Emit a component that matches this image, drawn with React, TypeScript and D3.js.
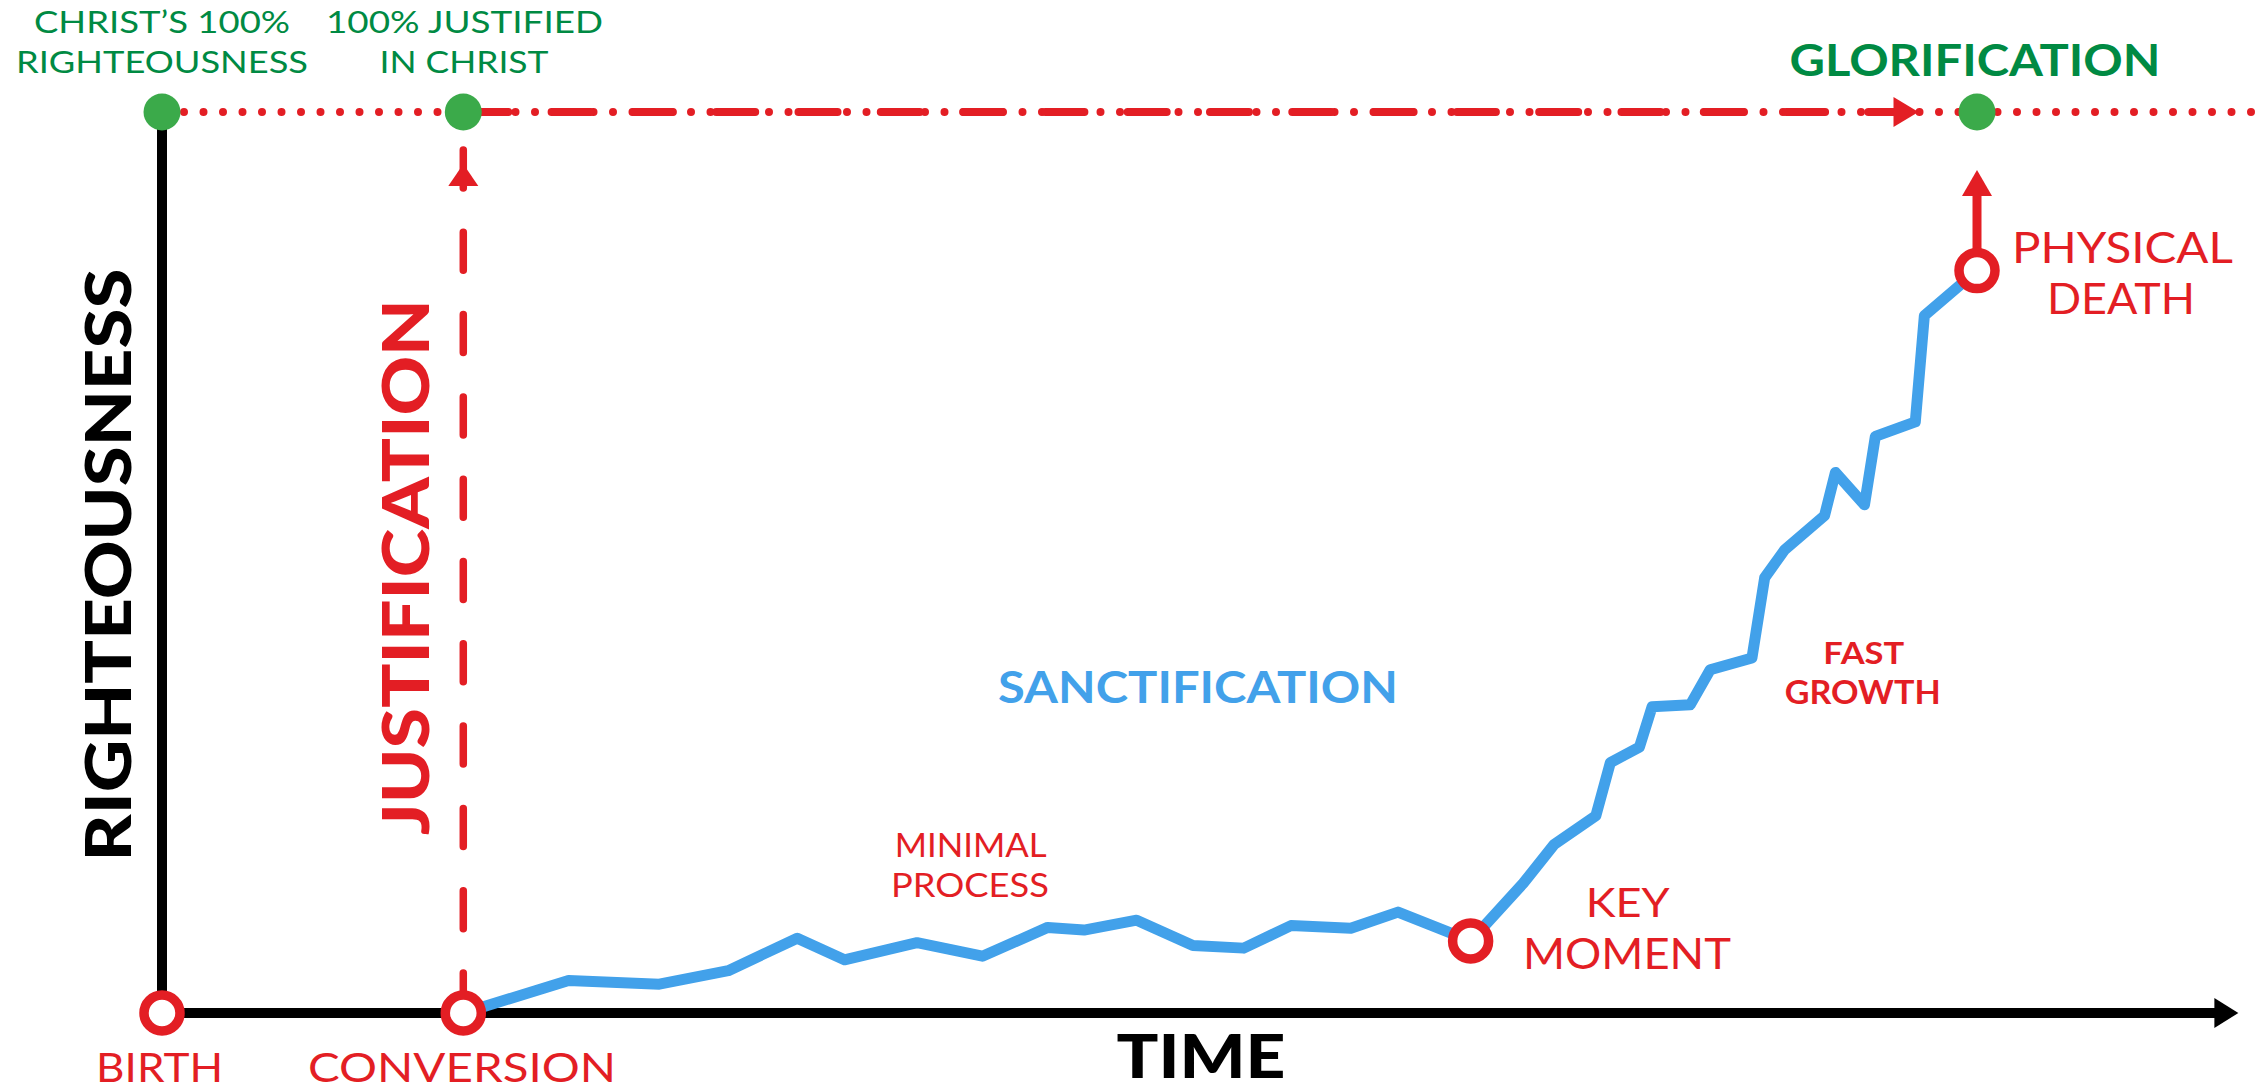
import React, { useEffect, useRef } from 'react';
import * as d3 from 'd3';

// time runs 0 (birth) .. 100 (physical death); righteousness 0 .. 100 (Christ's 100%)
const eventNames = ['BIRTH', 'CONVERSION', 'KEY MOMENT', 'PHYSICAL DEATH'];
const eventTimes = [0, 16.6, 72.1, 100];
const eventLevels = [0, 0, 8.0, 82.4];

const sanctTimes = [
  16.6, 22.4, 27.4, 31.2, 35.0, 37.6, 41.6, 45.2, 48.8, 50.8, 53.7, 56.8, 59.6,
  62.2, 65.5, 68.1, 72.1, 75.0, 76.7, 79.0, 79.8, 81.4, 82.1, 84.2, 85.3, 87.6,
  88.3, 89.4, 91.6, 92.2, 93.8, 94.4, 96.6, 97.1, 100,
];
const sanctLevels = [
  0, 3.6, 3.2, 4.7, 8.3, 5.9, 7.8, 6.3, 9.5, 9.2, 10.3, 7.5, 7.2,
  9.7, 9.4, 11.2, 8.0, 14.4, 18.7, 21.9, 27.8, 29.5, 34.0, 34.2, 38.1, 39.4,
  48.3, 51.4, 55.2, 60.0, 56.4, 64.0, 65.6, 77.4, 82.4,
];

const greenDotTimes = [0, 16.6, 100];
const timeAxisEnd = 114.4;

const RED = '#e31e24';
const GREEN_DOT = '#3baa4a';
const GREEN_TEXT = '#008a43';
const BLUE = '#42a1ea';

const App = () => {
  const svgRef = useRef<SVGSVGElement>(null);

  useEffect(() => {
    const svg = d3.select(svgRef.current);
    svg.selectAll('*').remove();
    const width = 2262;

    const x = d3.scaleLinear().domain([0, 100]).range([162, 1977]);
    const y = d3.scaleLinear().domain([0, 100]).range([1013, 112]);
    const top = y(100);
    const base = y(0);

    // dotted 100% line
    svg.append('line')
      .attr('x1', x(0) + 22).attr('x2', width)
      .attr('y1', top).attr('y2', top)
      .attr('stroke', RED).attr('stroke-width', 8)
      .attr('stroke-linecap', 'round')
      .attr('stroke-dasharray', '0 19.5');

    // dash line "100% justified" -> glorification
    const conv = x(eventTimes[1]);
    const arrowBase = 1893.5;
    svg.append('line')
      .attr('x1', conv + 6).attr('x2', arrowBase)
      .attr('y1', top).attr('y2', top)
      .attr('stroke', RED).attr('stroke-width', 8)
      .attr('stroke-linecap', 'round')
      .attr('stroke-dasharray', '39 43.3');
    svg.append('path')
      .attr('d', `M${arrowBase},${top - 15}L${arrowBase + 25},${top}L${arrowBase},${top + 15}Z`)
      .attr('fill', RED);

    // axes
    svg.append('line')
      .attr('x1', x(0)).attr('x2', x(timeAxisEnd) - 22)
      .attr('y1', base).attr('y2', base)
      .attr('stroke', '#000').attr('stroke-width', 10);
    svg.append('path')
      .attr('d', `M${x(timeAxisEnd) - 24},${base - 15}L${x(timeAxisEnd)},${base}L${x(timeAxisEnd) - 24},${base + 15}Z`)
      .attr('fill', '#000');
    svg.append('line')
      .attr('x1', x(0)).attr('x2', x(0))
      .attr('y1', top).attr('y2', base)
      .attr('stroke', '#000').attr('stroke-width', 10);

    // justification vertical dashed arrow
    svg.append('line')
      .attr('x1', conv).attr('x2', conv)
      .attr('y1', 150).attr('y2', base - 10)
      .attr('stroke', RED).attr('stroke-width', 7.5)
      .attr('stroke-linecap', 'round')
      .attr('stroke-dasharray', '38 44.3');
    svg.append('path')
      .attr('d', `M${conv - 15},186L${conv},164L${conv + 15},186Z`)
      .attr('fill', RED);

    // glorification arrow from death
    const dx = x(100);
    svg.append('line')
      .attr('x1', dx).attr('x2', dx)
      .attr('y1', y(eventLevels[3]) - 15).attr('y2', 194)
      .attr('stroke', RED).attr('stroke-width', 9);
    svg.append('path')
      .attr('d', `M${dx - 15},196L${dx},170L${dx + 15},196Z`)
      .attr('fill', RED);

    // green dots
    svg.selectAll('.gdot')
      .data(greenDotTimes)
      .enter().append('circle')
      .attr('cx', d => x(d)).attr('cy', top)
      .attr('r', 18.5)
      .attr('fill', GREEN_DOT);

    // sanctification line
    const line = d3.line<number>()
      .x(d => x(sanctTimes[d]))
      .y(d => y(sanctLevels[d]));
    svg.append('path')
      .attr('d', line(d3.range(sanctTimes.length)))
      .attr('fill', 'none')
      .attr('stroke', BLUE)
      .attr('stroke-width', 11)
      .attr('stroke-linejoin', 'round');

    // event rings
    svg.selectAll('.ring')
      .data(eventNames)
      .enter().append('circle')
      .attr('cx', (d, i) => x(eventTimes[i]))
      .attr('cy', (d, i) => y(eventLevels[i]))
      .attr('r', 18)
      .attr('fill', '#fff')
      .attr('stroke', RED)
      .attr('stroke-width', 9.5);

    const label = (txt: string, cx: number, by: number, size: number, weight: number, color: string, len: number) => {
      svg.append('text')
        .attr('x', cx).attr('y', by)
        .attr('text-anchor', 'middle')
        .attr('font-family', 'Lato')
        .attr('font-size', size)
        .attr('font-weight', weight)
        .attr('fill', color)
        .attr('textLength', len)
        .attr('lengthAdjust', 'spacingAndGlyphs')
        .text(txt);
    };

    label("CHRIST\u2019S 100%", 162, 33, 31, 400, GREEN_TEXT, 256);
    label('RIGHTEOUSNESS', 162, 73, 31, 400, GREEN_TEXT, 292);
    label('100% JUSTIFIED', 464.5, 33, 31, 400, GREEN_TEXT, 277);
    label('IN CHRIST', 464, 73, 31, 400, GREEN_TEXT, 169);
    label('GLORIFICATION', 1975, 76, 43, 700, GREEN_TEXT, 371);

    label('PHYSICAL', 2122.5, 263, 42, 400, RED, 221);
    label('DEATH', 2121, 314, 42, 400, RED, 148);
    label('KEY', 1627.7, 917, 40, 400, RED, 84);
    label('MOMENT', 1627, 969, 42, 400, RED, 208);
    label('FAST', 1863.7, 664, 31, 700, RED, 81);
    label('GROWTH', 1862.7, 704, 32, 700, RED, 156);
    label('MINIMAL', 970.7, 857, 33, 400, RED, 152);
    label('PROCESS', 970, 897, 33, 400, RED, 158);
    label('SANCTIFICATION', 1198, 703, 43, 700, BLUE, 400);
    // bottom labels kept just inside the picture's lower edge
    label('BIRTH', 159.6, 1082, 40, 400, RED, 127);
    label('CONVERSION', 462, 1082, 40, 400, RED, 308);
    label('TIME', 1201, 1078, 61, 900, '#000', 169);

    const vlabel = (txt: string, bx: number, cy: number, size: number, color: string, len: number) => {
      svg.append('text')
        .attr('transform', `translate(${bx},${cy}) rotate(-90)`)
        .attr('text-anchor', 'middle')
        .attr('font-family', 'Lato')
        .attr('font-size', size)
        .attr('font-weight', 900)
        .attr('fill', color)
        .attr('textLength', len)
        .attr('lengthAdjust', 'spacingAndGlyphs')
        .text(txt);
    };
    vlabel('RIGHTEOUSNESS', 131, 565, 63, '#000', 593);
    vlabel('JUSTIFICATION', 429, 567, 65, RED, 536);
  }, []);

  return (
    <svg
      ref={svgRef}
      width={2262}
      height={1092}
      style={{ position: 'absolute', left: 0, top: 0, background: '#fff' }}
    />
  );
};

export default App;
